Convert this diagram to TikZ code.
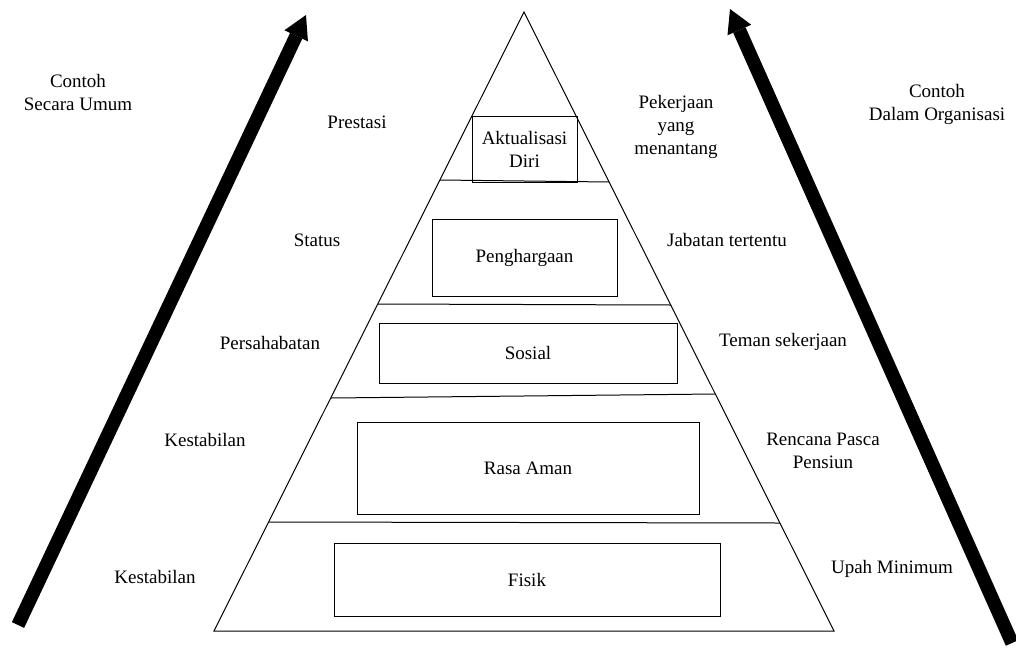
\documentclass[tikz,border=0pt]{standalone}
\usepackage{fontspec}
\setmainfont{Liberation Serif}
\usetikzlibrary{arrows.meta}

\begin{document}
\begin{tikzpicture}[x=1pt,y=-1pt,font=\fontsize{19}{23}\selectfont]
\useasboundingbox (0,0) rectangle (1016,648);

% pyramid and its layers
\coordinate (top) at (524,12);
\coordinate (bl) at (214,631);
\coordinate (br) at (834,631);
\coordinate (l1) at (440,180); \coordinate (r1) at (609,182);
\coordinate (l2) at (378,304); \coordinate (r2) at (671,305);
\coordinate (l3) at (331,398); \coordinate (r3) at (715,394);
\coordinate (l4) at (269,522); \coordinate (r4) at (780,523);

\begin{scope}[line width=1pt]
    \draw (top) -- (bl) -- (br) -- cycle;
    \draw (l1) -- (r1);
    \draw (l2) -- (r2);
    \draw (l3) -- (r3);
    \draw (l4) -- (r4);
\end{scope}

\begin{scope}[every node/.style={draw,line width=1pt,align=center,inner sep=0pt}]
    \node[minimum width=105pt,minimum height=66pt] (aktual) at (524.5,149) {Aktualisasi\\Diri};
    \node[minimum width=185pt,minimum height=77pt] (harga) at (524.5,257.5) {Penghargaan};
    \node[minimum width=298pt,minimum height=60pt] (sosial) at (528,353) {Sosial};
    \node[minimum width=342pt,minimum height=92pt] (aman) at (528,468) {Rasa Aman};
    \node[minimum width=386pt,minimum height=73pt] (fisik) at (527,579.5) {Fisik};
\end{scope}

% examples on both sides
\begin{scope}[every node/.style={align=center,inner sep=0pt}]
    \node (umum) at (78,92) {Contoh\\Secara Umum};
    \node (organisasi) at (937,104) {Contoh\\Dalam Organisasi};
    \node (prestasi) at (357,122) {Prestasi};
    \node (status) at (317,240) {Status};
    \node (sahabat) at (270,343) {Persahabatan};
    \node (stabil1) at (205,440) {Kestabilan};
    \node (stabil2) at (155,577) {Kestabilan};
    \node (tantang) at (676,127) {Pekerjaan\\yang\\menantang};
    \node (jabatan) at (727,240) {Jabatan tertentu};
    \node (teman) at (783,342) {Teman sekerjaan};
    \node (pensiun) at (823,451) {Rencana Pasca\\Pensiun};
    \node (upah) at (892,569) {Upah Minimum};
\end{scope}

\coordinate (ls) at (18,625); \coordinate (le) at (306,15);
\coordinate (rs) at (1012,643); \coordinate (re) at (730,9);
\begin{scope}[>={Triangle[length=23pt,width=26pt,line width=0pt]}]
    \draw [->,line width=13.5pt] (ls) -- (le);
    \draw [->,line width=13.5pt] (rs) -- (re);
\end{scope}
\end{tikzpicture}
\end{document}
